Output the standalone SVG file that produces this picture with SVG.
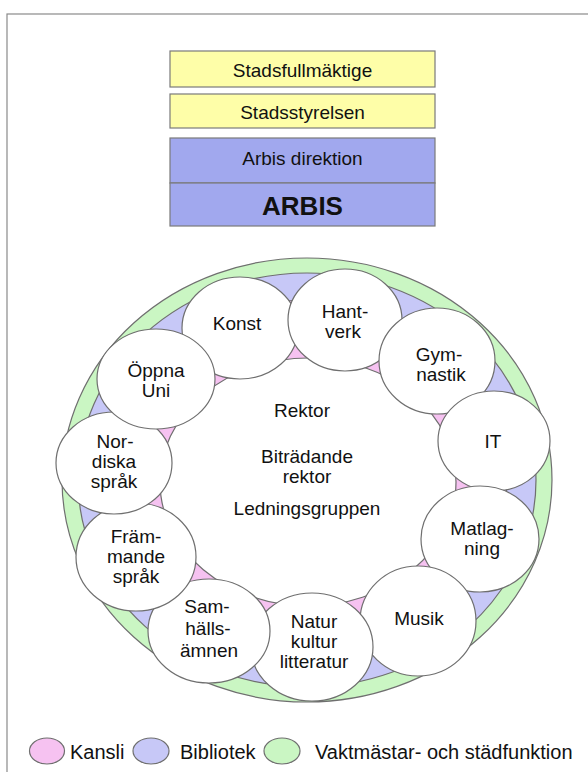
<svg xmlns="http://www.w3.org/2000/svg" width="588" height="772" viewBox="0 0 588 772">
<style>
text{font-family:"Liberation Sans",Arial,sans-serif;fill:#111;text-anchor:middle}
.t{font-size:19px}
.lg{font-size:20px;text-anchor:start}
.yb{fill:#fefea8;stroke:#7a7a7a;stroke-width:1.2}
.bb{fill:#a1a8ee;stroke:#7a7a7a;stroke-width:1.2}
.c{fill:#fff;stroke:#6f6f6f;stroke-width:1.2}
.ring{stroke:#6f6f6f;stroke-width:1.2}
.pink{fill:#f6c2f1}
.blue{fill:#c7c8f7}
.green{fill:#caf6c3}
</style>
<rect x="7" y="14" width="620" height="800" fill="#fff" stroke="#8a8a8a" stroke-width="1.2"/>

<g id="stadsfullmaktige"><rect class="yb" x="170" y="51" width="265" height="36"/><text class="t" x="302.5" y="77">Stadsfullmäktige</text></g>
<g id="stadsstyrelsen"><rect class="yb" x="170" y="94" width="265" height="34"/><text class="t" x="302.5" y="119">Stadsstyrelsen</text></g>
<g id="arbis-direktion"><rect class="bb" x="170" y="138" width="265" height="45"/><text class="t" x="302.5" y="165">Arbis direktion</text></g>
<g id="arbis"><rect class="bb" x="170" y="183" width="265" height="43"/><text x="302.5" y="215" style="font-size:26px;font-weight:bold">ARBIS</text></g>

<g id="rings">
<ellipse class="ring green" cx="307" cy="480" rx="245" ry="222"/>
<ellipse class="ring blue" cx="307" cy="480" rx="229" ry="207"/>
<ellipse class="ring pink" cx="307" cy="480" rx="200" ry="180"/>
<ellipse class="ring" fill="#fff" cx="308" cy="482" rx="148" ry="124"/>
</g>

<g id="center">
<text class="t" x="302" y="417">Rektor</text>
<text class="t" x="307" y="463">Biträdande</text>
<text class="t" x="307" y="483">rektor</text>
<text class="t" x="307" y="515">Ledningsgruppen</text>
</g>

<g id="konst"><ellipse class="c" cx="240" cy="328" rx="58" ry="51"/><text class="t" x="237" y="330">Konst</text></g>
<g id="hantverk"><ellipse class="c" cx="345" cy="320" rx="57" ry="51"/><text class="t" x="345" y="318">Hant-</text><text class="t" x="343" y="338">verk</text></g>
<g id="gymnastik"><ellipse class="c" cx="437" cy="361" rx="58" ry="53"/><text class="t" x="439" y="361">Gym-</text><text class="t" x="441" y="381">nastik</text></g>
<g id="it"><ellipse class="c" cx="494" cy="441" rx="56" ry="50"/><text class="t" x="493" y="448">IT</text></g>
<g id="matlagning"><ellipse class="c" cx="480" cy="539" rx="59" ry="53"/><text class="t" x="482" y="535">Matlag-</text><text class="t" x="482" y="555">ning</text></g>
<g id="musik"><ellipse class="c" cx="418" cy="621" rx="58" ry="55"/><text class="t" x="419" y="625">Musik</text></g>
<g id="natur"><ellipse class="c" cx="312" cy="647" rx="61" ry="54"/><text class="t" x="314" y="628">Natur</text><text class="t" x="314" y="648">kultur</text><text class="t" x="314" y="668">litteratur</text></g>
<g id="samhallsamnen"><ellipse class="c" cx="209" cy="631" rx="61" ry="52"/><text class="t" x="207" y="613">Sam-</text><text class="t" x="208" y="635">hälls-</text><text class="t" x="209" y="657">ämnen</text></g>
<g id="frammande"><ellipse class="c" cx="136" cy="557" rx="60" ry="54"/><text class="t" x="136" y="543">Främ-</text><text class="t" x="136" y="563">mande</text><text class="t" x="136" y="583">språk</text></g>
<g id="nordiska"><ellipse class="c" cx="114" cy="463" rx="58" ry="51"/><text class="t" x="115" y="448">Nor-</text><text class="t" x="114" y="468">diska</text><text class="t" x="114" y="488">språk</text></g>
<g id="oppna-uni"><ellipse class="c" cx="156" cy="379" rx="59" ry="50"/><text class="t" x="156" y="377">Öppna</text><text class="t" x="156" y="397">Uni</text></g>

<g id="connectors"/>

<g id="legend">
<ellipse class="ring pink" cx="47" cy="751" rx="17.5" ry="13"/>
<text class="lg" x="70" y="759">Kansli</text>
<ellipse class="ring blue" cx="151" cy="751" rx="18" ry="13"/>
<text class="lg" x="180" y="759">Bibliotek</text>
<ellipse class="ring green" cx="282" cy="751" rx="18" ry="13"/>
<text class="lg" x="315" y="759">Vaktmästar- och städfunktion</text>
</g>
</svg>
